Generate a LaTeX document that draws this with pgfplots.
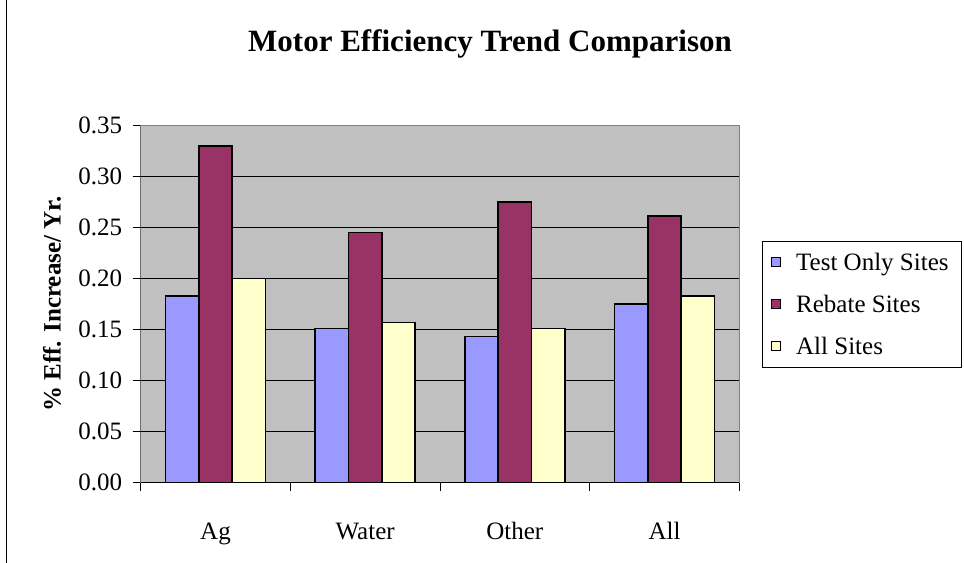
\documentclass[border=0pt]{standalone}
\usepackage{pgfplots}
\usepackage{pgfplotstable}
\pgfplotsset{compat=1.18}
\usepackage{fontspec}
\setmainfont{Liberation Serif}
\definecolor{testc}{HTML}{9999FF}
\definecolor{rebc}{HTML}{993366}
\definecolor{allc}{HTML}{FFFFCC}
\definecolor{bggray}{HTML}{C0C0C0}
\definecolor{framegray}{HTML}{808080}

\pgfplotstableread{
idx test rebate all
0 0.183 0.330 0.200
1 0.151 0.245 0.157
2 0.143 0.275 0.151
3 0.175 0.261 0.183
}\datatable

\newcommand{\bodyfont}{\fontsize{25bp}{30bp}\selectfont}

\begin{document}
\begin{tikzpicture}
\useasboundingbox (0,0) rectangle (964bp,563bp);
\draw[black,line width=0.75bp] (6.5bp,0) -- (6.5bp,563bp);
\node[anchor=base, inner sep=0pt, font=\fontsize{31bp}{37bp}\selectfont\bfseries] at (490bp,511bp) {Motor Efficiency Trend Comparison};
\begin{axis}[
  at={(140.7bp,80.3bp)}, anchor=south west,
  scale only axis, width=598.6bp, height=357.4bp,
  xmin=-0.5, xmax=3.5, ymin=0, ymax=0.35,
  ybar=0pt, bar width=0.2222,
  axis background/.style={fill=bggray},
  axis line style={draw=framegray, line width=1.5bp},
  tick align=outside,
  xtick pos=bottom, ytick pos=left,
  major tick length=8bp,
  xtick={0,1,2,3}, xticklabels={Ag,Water,Other,All},
  x tick style={draw=none},
  extra x ticks={-0.5,0.5,1.5,2.5,3.5}, extra x tick labels={},
  extra x tick style={x tick style={draw=black, line width=0.75bp}},
  ytick={0,0.05,0.1,0.15,0.2,0.25,0.3,0.35},
  y tick style={draw=black, line width=0.75bp},
  extra y ticks={0.05,0.1,0.15,0.2,0.25,0.3}, extra y tick labels={},
  extra y tick style={ymajorgrids=true, major grid style={draw=black, line width=0.75bp}},
  ticklabel style={font=\bodyfont, text=black},
  xticklabel style={yshift=-29bp, text height=16.5bp, text depth=5bp},
  yticklabel style={xshift=-7bp, /pgf/number format/.cd, fixed, fixed zerofill, precision=2, assume math mode=true},
  ylabel={\bfseries\% Eff. Increase/ Yr.},
  ylabel style={font=\bodyfont, at={(axis description cs:-0.148,0.5)}, anchor=center},
  legend cell align=left,
  legend image code/.code={
    \path[draw=none, fill=none] (0bp,-21bp) rectangle (34bp,21bp);
    \draw[#1, draw=black, line width=1.2bp] (9bp,-4.5bp) rectangle (18bp,4.5bp);
  },
  legend style={at={(axis description cs:1.372,0.677)}, anchor=north east,
    draw=black, line width=0.75bp, fill=white, font=\bodyfont,
    inner xsep=0pt, inner ysep=0pt, row sep=0pt, nodes={inner sep=0pt}},
]
\addplot[fill=testc, draw=black, line width=1.6bp] table[x=idx, y=test] {\datatable};
\addplot[fill=rebc, draw=black, line width=1.6bp] table[x=idx, y=rebate] {\datatable};
\addplot[fill=allc, draw=black, line width=1.6bp] table[x=idx, y=all] {\datatable};
\legend{Test Only Sites\kern13bp, Rebate Sites, All Sites}
\draw[black, line width=1bp] (rel axis cs:0,0) -- (rel axis cs:1,0);
\draw[black!70, line width=1.5bp] (rel axis cs:0,0) -- (rel axis cs:0,1);
\end{axis}
\end{tikzpicture}
\end{document}
